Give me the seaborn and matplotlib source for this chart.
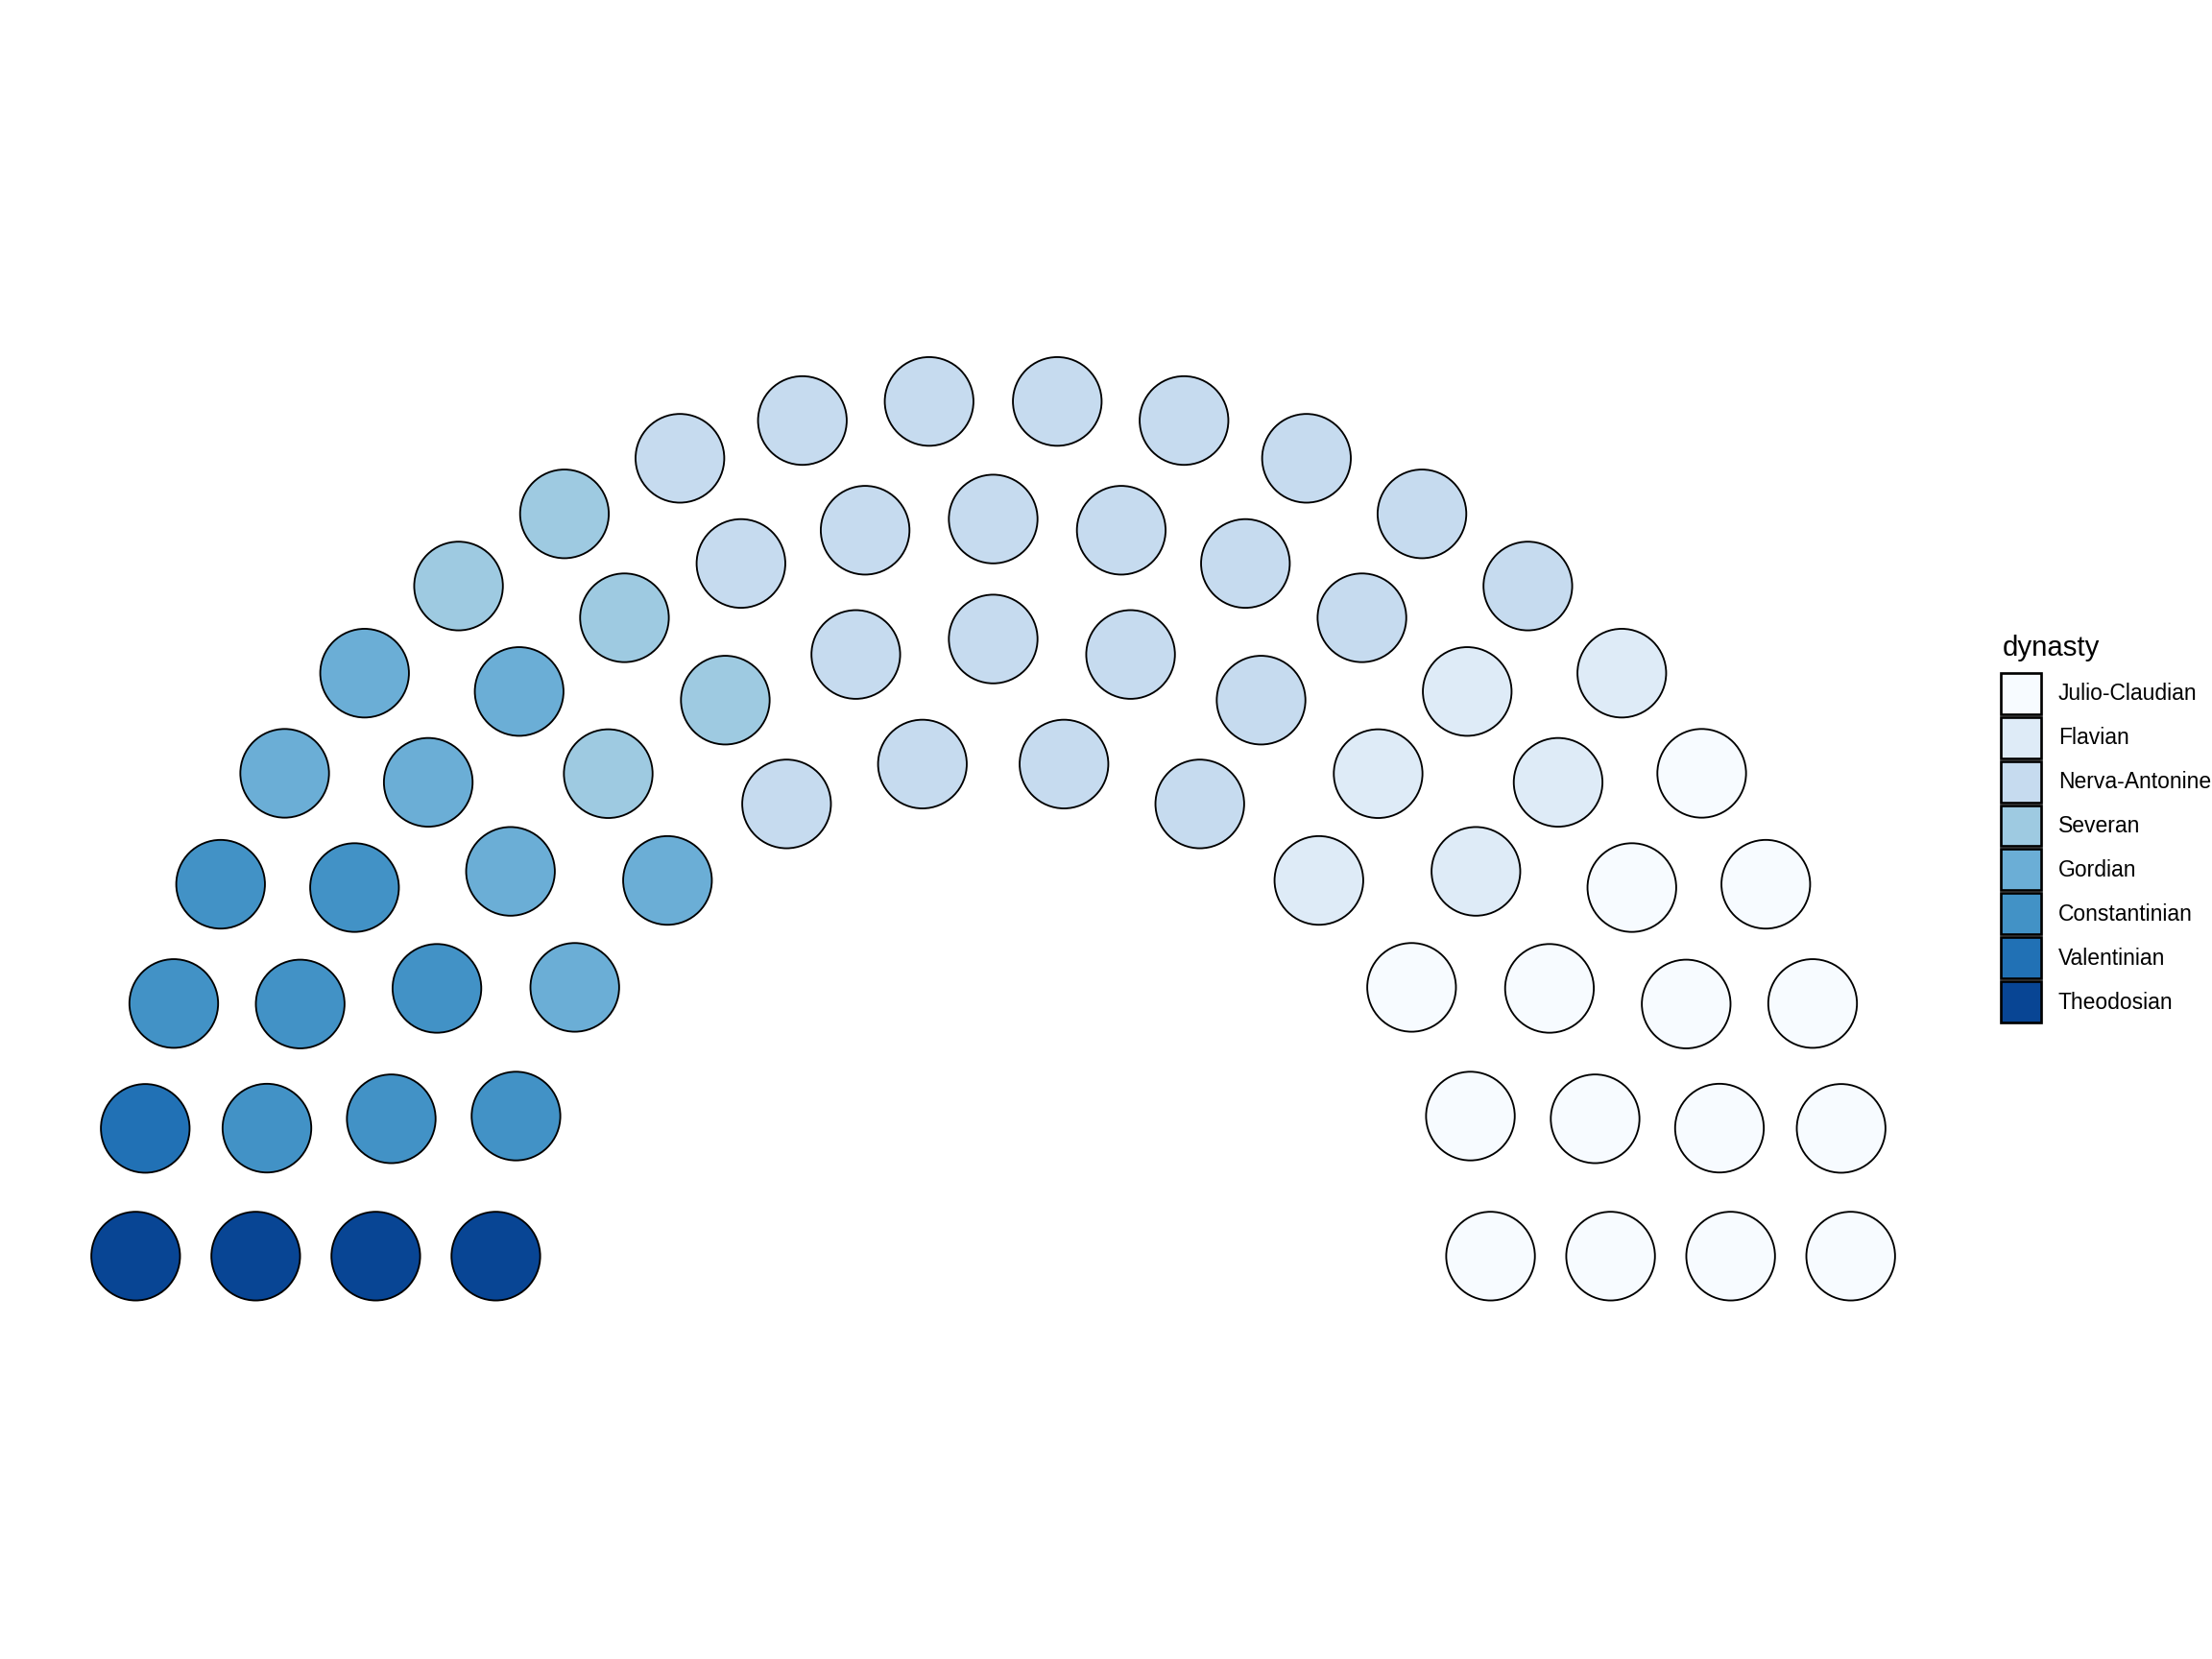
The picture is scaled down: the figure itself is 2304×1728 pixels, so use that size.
import numpy as np
import pandas as pd
import matplotlib

matplotlib.use("Agg")

import matplotlib.pyplot as plt
from matplotlib.patches import Patch
import seaborn as sns

# emperors per dynasty (legend order)
dynasties = ["Julio-Claudian", "Flavian", "Nerva-Antonine", "Severan",
             "Gordian", "Constantinian", "Valentinian", "Theodosian"]
emperors = [15, 6, 22, 5, 7, 8, 1, 4]
colors = ["#F7FBFF", "#DEEBF7", "#C6DBEF", "#9ECAE1",
          "#6BAED6", "#4292C6", "#2171B5", "#084594"]

# parliament rows, inner to outer
row_seats = [12, 15, 19, 22]
row_radius = [0.58, 0.72, 0.86, 1.0]

sns.set_theme(style="white")
plt.rcParams["font.family"] = ["Liberation Sans", "DejaVu Sans"]
plt.rcParams["text.color"] = "black"

rows = []
for i, (n, r) in enumerate(zip(row_seats, row_radius)):
    theta = np.linspace(0, np.pi, n)
    rows.append(pd.DataFrame({
        "x": r * np.cos(theta),
        "y": r * np.sin(theta),
        "row": i + 1,
        "theta": np.round(theta, 8),
    }))
seats = pd.concat(rows, ignore_index=True)
seats = seats.sort_values(["theta", "row"], ascending=[False, False]).reset_index(drop=True)
seats["dynasty"] = np.repeat(dynasties[::-1], emperors[::-1])

W, H = 2304, 1728
fig = plt.figure(figsize=(12, 9), dpi=192)
ax = fig.add_axes([52 / W, 375 / H, 1965 / W, 982 / H])

sns.scatterplot(
    data=seats, x="x", y="y", hue="dynasty", hue_order=dynasties,
    palette=colors, s=1200, edgecolor="black", linewidth=0.7,
    legend=False, ax=ax, zorder=3, clip_on=False,
)
ax.set_xlim(-1.1, 1.1)
ax.set_ylim(-0.05, 1.05)
ax.set_axis_off()

handles = [Patch(facecolor=c, edgecolor="black", linewidth=1.0) for c in colors]
leg = fig.legend(
    handles, dynasties,
    loc="upper left", bbox_to_anchor=(2084 / W, 1 - 701 / H),
    frameon=False, fontsize=8.6,
    handlelength=1.83, handleheight=2.5, labelspacing=0.13,
    handletextpad=0.78, borderpad=0, borderaxespad=0,
)
for t in leg.get_texts():
    t.set_color("black")
fig.text(2086 / W, 1 - 683 / H, "dynasty", fontsize=11, color="black",
         ha="left", va="baseline")

fig.savefig("out.png", dpi=192, facecolor="white")
